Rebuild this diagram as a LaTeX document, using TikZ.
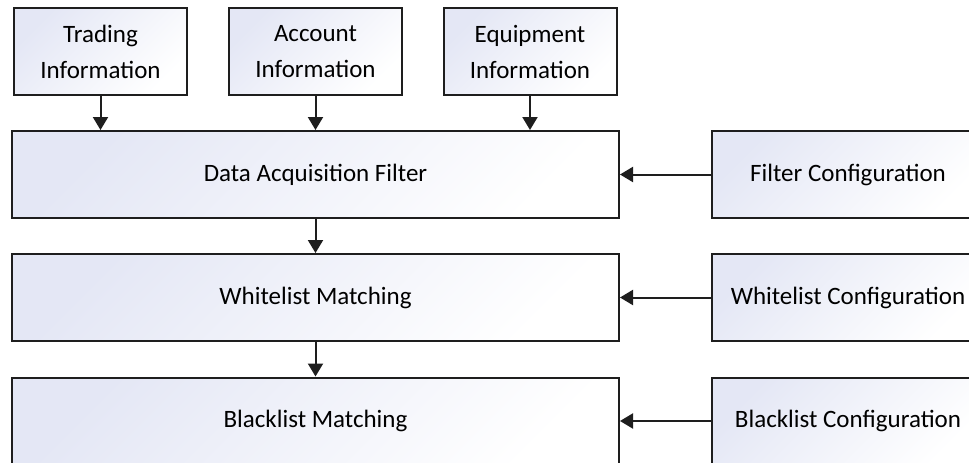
\documentclass[tikz,border=0pt]{standalone}
\usepackage{fontspec}
\setmainfont{Carlito}
\usepackage{tikz}
\usetikzlibrary{arrows.meta,positioning}
\definecolor{clTint}{RGB}{228,231,245}
\definecolor{clLine}{RGB}{30,30,30}
\tikzset{
  box/.style={rectangle, draw=clLine, line width=2pt, align=center,
              top color=clTint, bottom color=white, shading angle=45,
              text=black, font=\fontsize{25}{36}\selectfont},
  source/.style={box, minimum width=173pt, minimum height=87pt},
  stage/.style={box, minimum width=607pt, minimum height=87pt},
  config/.style={box, minimum width=272pt, minimum height=87pt},
  flow/.style={-{Triangle[length=13pt,width=15pt]}, line width=2pt, draw=clLine},
}
\begin{document}
\begin{tikzpicture}[x=1pt,y=-1pt]
  \useasboundingbox (0,0) rectangle (969,463);
  \clip (0,0) rectangle (969,463);
  % input sources
  \node[source] (trading) at (100.5,51.5) {Trading\\Information};
  \node[source] (account) at (315.5,51.5) {Account\\Information};
  \node[source] (equip) at (530,51.5) {Equipment\\Information};
  % processing chain
  \node[stage] (filter) at (315.5,174.5) {Data Acquisition Filter};
  \node[stage] (white) at (315.5,297.5) {Whitelist Matching};
  \node[stage] (black) at (315.5,421) {Blacklist Matching};
  % configuration
  \node[config] (fltcfg) at (848,174.5) {Filter Configuration};
  \node[config] (whtcfg) at (848,297.5) {Whitelist Configuration};
  \node[config] (blkcfg) at (848,421) {Blacklist Configuration};
  \draw[flow] (trading) -- (trading |- filter.north);
  \draw[flow] (account) -- (filter);
  \draw[flow] (equip) -- (equip |- filter.north);
  \draw[flow] (filter) -- (white);
  \draw[flow] (white) -- (black);
  \draw[flow] (fltcfg) -- (filter);
  \draw[flow] (whtcfg) -- (white);
  \draw[flow] (blkcfg) -- (black);
\end{tikzpicture}
\end{document}
